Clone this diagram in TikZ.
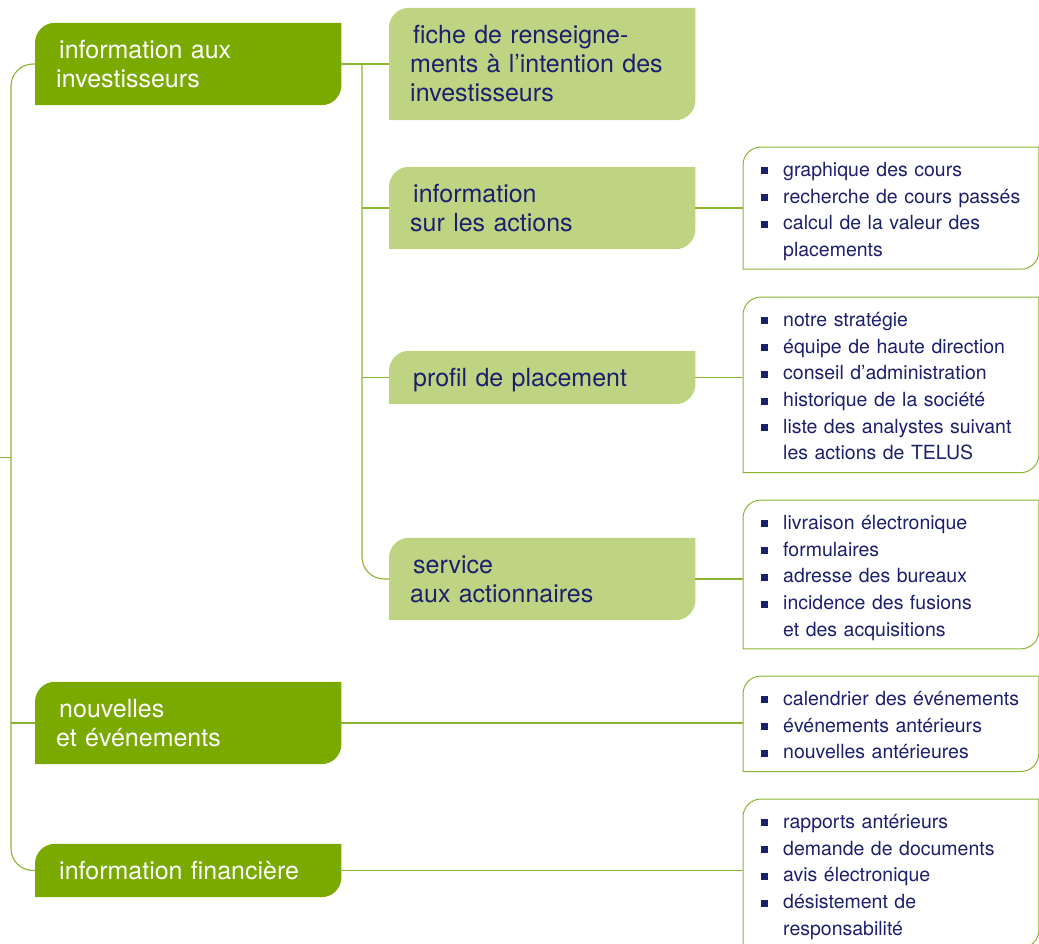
\documentclass[tikz,border=0pt]{standalone}
\usepackage{fontspec}
\setmainfont{TeX Gyre Heros}
\usetikzlibrary{backgrounds}
\definecolor{dkgreen}{RGB}{122,169,0}
\definecolor{ltgreen}{RGB}{191,212,131}
\definecolor{navy}{RGB}{27,32,110}
\definecolor{lnkgreen}{RGB}{140,180,50}
% struts, square bullet and indent for the boxes
\newcommand\tstrut{\rule[-5.7pt]{0pt}{29pt}}
\newcommand\lstrut{\rule[-5pt]{0pt}{26.7pt}}
\newcommand\bul{\lstrut\makebox[22pt][l]{\raisebox{2pt}{\textcolor{navy}{\rule{7pt}{7pt}}}}}
\newcommand\cont{\lstrut\hspace*{22pt}}
\newcommand\fl{\tstrut\hspace*{3pt}}
% box outline, rounded top left and bottom right
\newcommand\tabshape[2]{(#1.north east) -- ([xshift=#2]#1.north west) arc[start angle=90,end angle=180,radius=#2] -- (#1.south west) -- ([xshift=-#2]#1.south east) arc[start angle=270,end angle=360,radius=#2] -- cycle}
\begin{document}
\begin{tikzpicture}[x=1pt, y=-1pt,
    lnk/.style = {draw=lnkgreen, line width=1.1pt},
    topbox/.style = {anchor=west, text=white, text width=264pt,
      inner xsep=21pt, inner ysep=0pt, minimum height=82pt, align=left,
      font=\fontsize{25}{29}\selectfont},
    subbox/.style = {topbox, text=navy},
    listbox/.style = {anchor=north west, text=navy, text width=259.5pt,
      inner xsep=18pt, inner ysep=7.5pt, align=left,
      font=\fontsize{19.5}{26.7}\selectfont}]
  \useasboundingbox (0,0) rectangle (1039,943);

  % first level
  \node[topbox] (inv) at (35,64) {\fl information aux\\\tstrut investisseurs};
  \node[topbox] (nouv) at (35,723) {\fl nouvelles\\\tstrut et événements};
  \node[topbox, minimum height=53pt] (fin) at (35,870.5) {\fl information financière};

  % second level
  \node[subbox, minimum height=112pt] (fiche) at (389,64)
    {\fl fiche de renseigne-\\\tstrut ments à l’intention des\\\tstrut investisseurs};
  \node[subbox] (info) at (389,208) {\fl information\\\tstrut sur les actions};
  \node[subbox, minimum height=53pt] (prof) at (389,377.5) {\fl profil de placement};
  \node[subbox] (serv) at (389,579) {\fl service\\\tstrut aux actionnaires};

  % lists
  \node[listbox] (l1) at (743,147) {\bul graphique des cours\\\bul recherche de cours passés\\
    \bul calcul de la valeur des\\\cont placements};
  \node[listbox] (l2) at (743,297) {\bul notre stratégie\\\bul équipe de haute direction\\
    \bul conseil d’administration\\\bul historique de la société\\
    \bul liste des analystes suivant\\\cont les actions de TELUS};
  \node[listbox] (l3) at (743,500) {\bul livraison électronique\\\bul formulaires\\
    \bul adresse des bureaux\\\bul incidence des fusions\\\cont et des acquisitions};
  \node[listbox] (l4) at (743,676) {\bul calendrier des événements\\\bul événements antérieurs\\
    \bul nouvelles antérieures};
  \node[listbox] (l5) at (743,799) {\bul rapports antérieurs\\\bul demande de documents\\
    \bul avis électronique\\\bul désistement de\\\cont responsabilité};

  \begin{scope}[on background layer]
    \foreach \n in {inv,nouv,fin} \fill[dkgreen] \tabshape{\n}{20pt};
    \foreach \n in {fiche,info,prof,serv} \fill[ltgreen] \tabshape{\n}{20pt};
  \end{scope}
  \foreach \n in {l1,l2,l3,l4,l5} \draw[lnk, line width=1pt] \tabshape{\n}{18pt};

  % connectors
  \coordinate (root) at (0,457.5);
  \coordinate (trunk) at (11,457.5);
  \coordinate (sub) at (362,64);
  \draw[lnk] (root) -- (trunk);
  \draw[lnk, rounded corners=22pt] (inv.west) -| (trunk) |- (fin.west);
  \draw[lnk] (nouv.west) -- (nouv.west -| trunk);
  \draw[lnk] (inv.east) -- (fiche.west);
  \draw[lnk, rounded corners=22pt] (sub) |- (serv.west);
  \foreach \n in {info,prof} \draw[lnk] (\n.west) -- (\n.west -| sub);
  \foreach \n/\m in {info/l1,prof/l2,serv/l3,nouv/l4,fin/l5}
    \draw[lnk] (\n.east) -- (\n.east -| \m.west);
\end{tikzpicture}
\end{document}
